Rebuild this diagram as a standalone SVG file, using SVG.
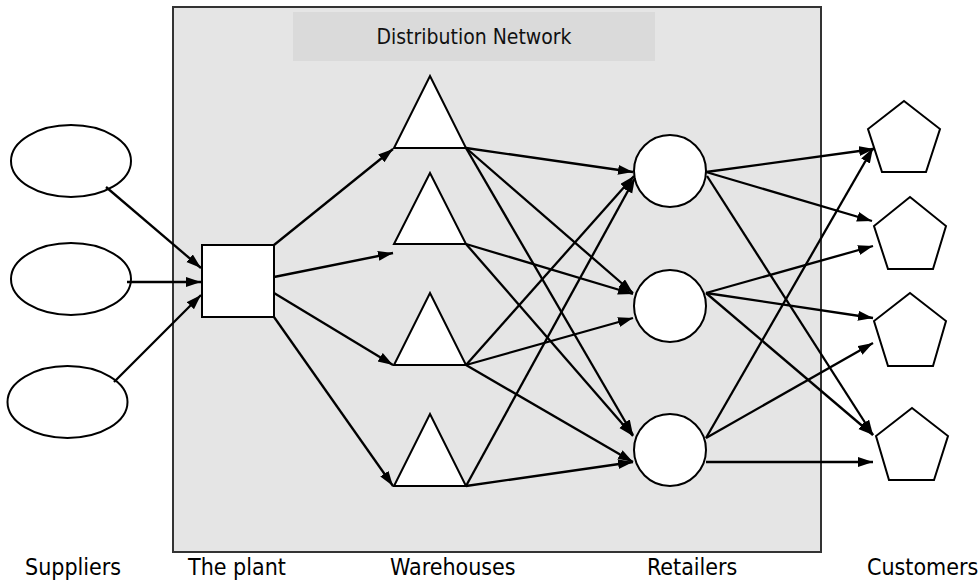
<svg xmlns="http://www.w3.org/2000/svg" width="980" height="582" viewBox="0 0 980 582">
<style>
.shape{fill:#ffffff;stroke:#000000;stroke-width:2}
.edge{fill:none;stroke:#000000;stroke-width:2.3;marker-end:url(#ah)}
.lbl{font-family:"DejaVu Sans Condensed","DejaVu Sans","Liberation Sans",sans-serif;font-stretch:condensed;font-size:23px;fill:#000000}
.title{font-family:"DejaVu Sans Condensed","DejaVu Sans","Liberation Sans",sans-serif;font-stretch:condensed;font-size:21px;fill:#111111;text-anchor:middle}
</style>
<defs>
<marker id="ah" markerUnits="userSpaceOnUse" markerWidth="16" markerHeight="11" refX="15" refY="5" orient="auto">
<path d="M0,0 L15,5 L0,10 z" fill="#000000"/>
</marker>
</defs>
<rect width="980" height="582" fill="#ffffff"/>
<g id="distribution-network">
<rect x="173" y="7" width="648" height="545" fill="#e5e5e5" stroke="#333333" stroke-width="2"/>
<rect x="293" y="12" width="362" height="49" fill="#dadada"/>
<text class="title" x="474" y="44">Distribution Network</text>
</g>
<g id="suppliers">
<ellipse id="supplier1" class="shape" cx="71" cy="161" rx="60" ry="36"/>
<ellipse id="supplier2" class="shape" cx="71" cy="279" rx="60" ry="36"/>
<ellipse id="supplier3" class="shape" cx="67.5" cy="402" rx="60" ry="36"/>
</g>
<g id="plant">
<rect class="shape" x="202" y="245" width="72" height="72"/>
</g>
<g id="warehouses">
<polygon id="warehouse1" class="shape" points="430,76 466,148 394,148"/>
<polygon id="warehouse2" class="shape" points="430,173 466,244 394,244"/>
<polygon id="warehouse3" class="shape" points="430,293 466,365 394,365"/>
<polygon id="warehouse4" class="shape" points="430,414 466,486 394,486"/>
</g>
<g id="retailers">
<circle id="retailer1" class="shape" cx="670" cy="171" r="36"/>
<circle id="retailer2" class="shape" cx="670" cy="306" r="36"/>
<circle id="retailer3" class="shape" cx="670" cy="450" r="36"/>
</g>
<g id="customers">
<polygon id="customer1" class="shape" points="904,101 940,129 926,172 882,172 868,129"/>
<polygon id="customer2" class="shape" points="910,197 946,226 933,269 888,269 874,226"/>
<polygon id="customer3" class="shape" points="910,293 946,321 933,366 888,366 874,321"/>
<polygon id="customer4" class="shape" points="912,408 948,436 934,480 889,480 876,436"/>
</g>
<g id="connectors">
<line class="edge" x1="106" y1="187" x2="201" y2="268"/>
<line class="edge" x1="127" y1="282" x2="201" y2="282"/>
<line class="edge" x1="114" y1="382" x2="201" y2="295"/>
<line class="edge" x1="274" y1="245" x2="393" y2="149"/>
<line class="edge" x1="274" y1="277" x2="393" y2="253"/>
<line class="edge" x1="274" y1="293" x2="393" y2="365"/>
<line class="edge" x1="274" y1="317" x2="393" y2="486"/>
<line class="edge" x1="466" y1="148" x2="633" y2="172"/>
<line class="edge" x1="466" y1="148" x2="633" y2="293"/>
<line class="edge" x1="466" y1="148" x2="633" y2="435"/>
<line class="edge" x1="466" y1="244" x2="633" y2="294"/>
<line class="edge" x1="466" y1="244" x2="633" y2="436"/>
<line class="edge" x1="466" y1="365" x2="634" y2="176"/>
<line class="edge" x1="466" y1="365" x2="633" y2="318"/>
<line class="edge" x1="466" y1="365" x2="633" y2="462"/>
<line class="edge" x1="466" y1="486" x2="635" y2="178"/>
<line class="edge" x1="466" y1="486" x2="633" y2="462"/>
<line class="edge" x1="706" y1="172" x2="874" y2="149"/>
<line class="edge" x1="706" y1="172" x2="872" y2="221"/>
<line class="edge" x1="707" y1="176" x2="873" y2="435"/>
<line class="edge" x1="706" y1="293" x2="873" y2="246"/>
<line class="edge" x1="706" y1="293" x2="873" y2="318"/>
<line class="edge" x1="706" y1="293" x2="873" y2="435"/>
<line class="edge" x1="706" y1="438" x2="873" y2="148"/>
<line class="edge" x1="706" y1="438" x2="873" y2="343"/>
<line class="edge" x1="706" y1="462" x2="873" y2="462"/>
</g>
<g id="labels">
<text class="lbl" x="25" y="575">Suppliers</text>
<text class="lbl" x="188" y="575">The plant</text>
<text class="lbl" x="390" y="575">Warehouses</text>
<text class="lbl" x="647" y="575">Retailers</text>
<text class="lbl" x="867" y="575">Customers</text>
</g>
</svg>
